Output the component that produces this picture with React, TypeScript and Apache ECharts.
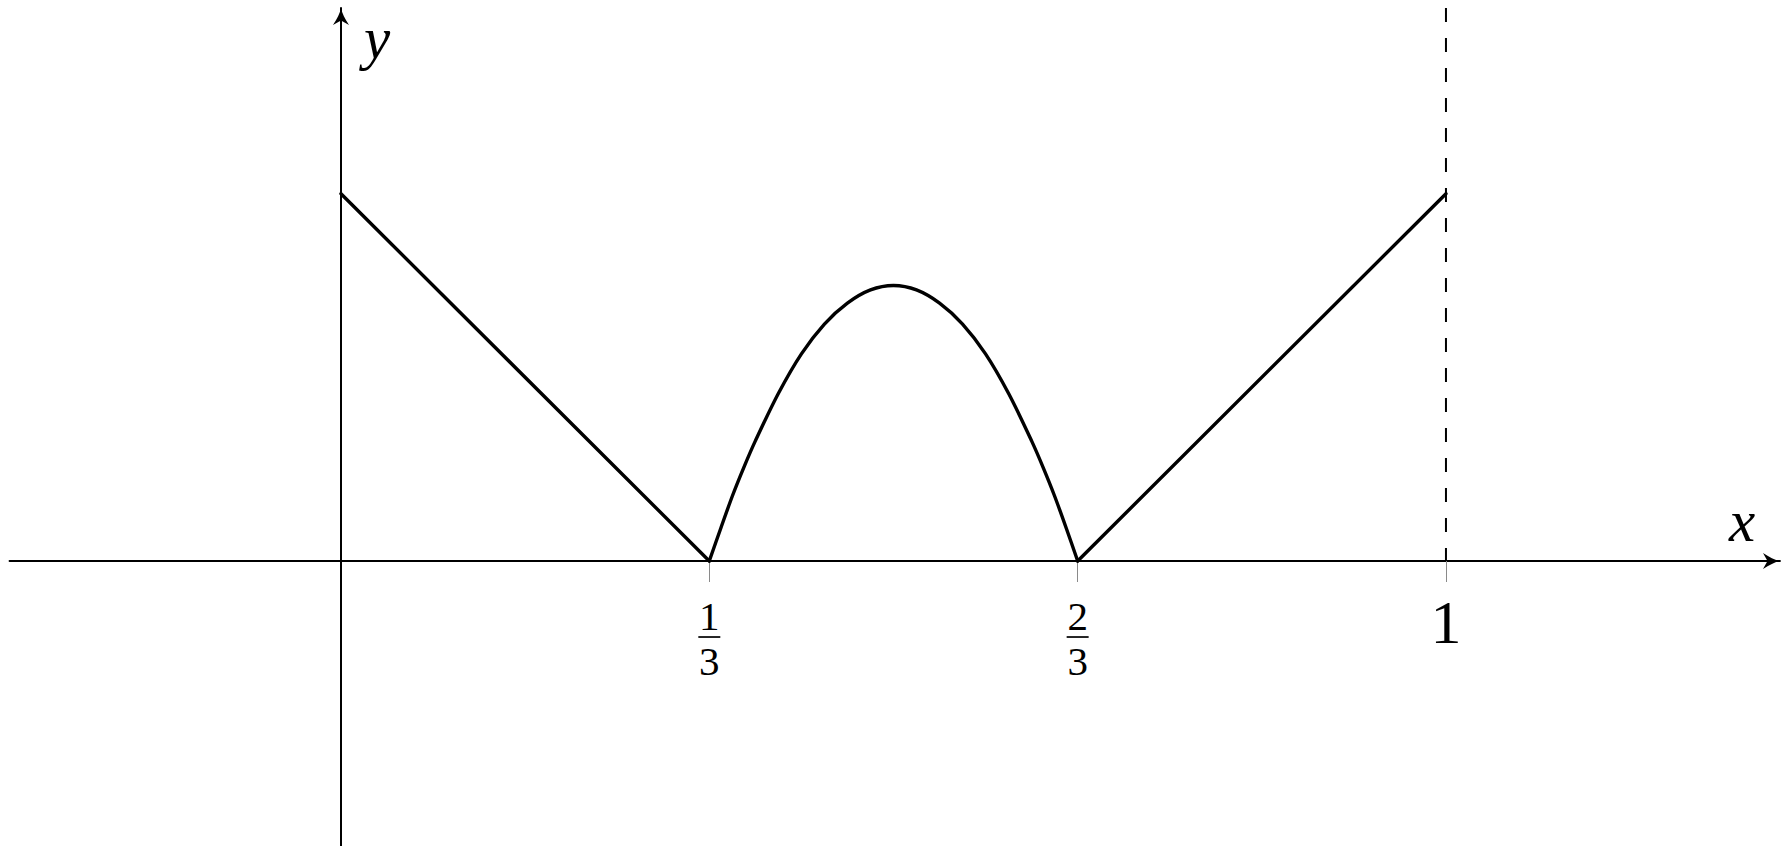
import { useEffect, useRef } from 'react'
import * as echarts from 'echarts'

const W = 1785
const H = 846

const SERIF = "'Liberation Serif', 'DejaVu Serif', serif"

// visible window of the two axes (data units)
const X_MIN = -0.3
const X_MAX = 1.3023
const Y_MIN = -0.2586
const Y_MAX = 0.5018

// grid box in pixels
const GRID_LEFT = 9.5
const GRID_TOP = 8
const GRID_W = 1770.5
const GRID_H = 838
// the x axis sits at y = 0, i.e. this far above the grid's bottom edge
const X_AXIS_LIFT = (-Y_MIN / (Y_MAX - Y_MIN)) * GRID_H

// ticks on the x axis
const xTicks = [1 / 3, 2 / 3, 1]
const xTickLabels = ['1/3', '2/3', '1']

// left falling segment
const leftX = [0, 0.3333]
const leftY = [0.3333, 0]

// middle arch
const arcX = [
  0.3333, 0.3438, 0.3542, 0.3646, 0.375, 0.3958, 0.4167, 0.4375, 0.4583, 0.4792, 0.5,
  0.5208, 0.5417, 0.5625, 0.5833, 0.6042, 0.625, 0.6354, 0.6458, 0.6563, 0.6667,
]
const arcY = [
  0, 0.03, 0.059, 0.085, 0.109, 0.152, 0.188, 0.215, 0.234, 0.246, 0.25,
  0.246, 0.234, 0.215, 0.188, 0.152, 0.109, 0.085, 0.059, 0.03, 0,
]

// right rising segment
const rightX = [0.6667, 1]
const rightY = [0, 0.3333]

// dashed vertical line at x = 1
const dashX = [1, 1]
const dashY = [Y_MAX, 0]

// latex-style arrow head, pointing up
const ARROW = 'path://M8,0 C9,5 12,11 16,17 L8,12.5 L0,17 C4,11 7,5 8,0 Z'

const pts = (xs: number[], ys: number[]) => xs.map((x, i) => [x, ys[i]])

function tickLabel(v: number): string {
  const i = xTicks.findIndex((t) => Math.abs(t - v) < 1e-6)
  if (i < 0) return ''
  const [n, d] = xTickLabels[i].split('/')
  return d ? `{num|${n}}\n{bar|}\n{den|${d}}` : `{big|${n}}`
}

const curve = { color: '#000', width: 3.4, cap: 'round' as const, join: 'round' as const }

function buildOption(): echarts.EChartsOption {
  return {
    animation: false,
    backgroundColor: '#fff',
    grid: {
      left: GRID_LEFT,
      top: GRID_TOP,
      width: GRID_W,
      height: GRID_H,
      outerBoundsMode: 'none',
      containLabel: false,
    } as any,
    xAxis: {
      type: 'value',
      min: X_MIN,
      max: X_MAX,
      offset: -X_AXIS_LIFT,
      name: 'x',
      nameLocation: 'end',
      nameGap: -38,
      nameMoveOverlap: false,
      nameTextStyle: {
        fontFamily: SERIF,
        fontStyle: 'italic',
        fontSize: 59,
        color: '#000',
        align: 'center',
        verticalAlign: 'bottom',
        lineHeight: 80,
      },
      axisLine: {
        onZero: false,
        symbol: ['none', ARROW],
        symbolSize: [17, 17],
        symbolOffset: [0, -8.5],
        lineStyle: { color: '#000', width: 1.8 },
      },
      axisTick: {
        show: true,
        customValues: xTicks,
        length: 21,
        lineStyle: { color: '#8a8a8a', width: 1 },
      },
      axisLabel: {
        customValues: xTicks,
        margin: 38,
        verticalAlign: 'top',
        color: '#000',
        fontFamily: SERIF,
        formatter: tickLabel,
        rich: {
          num: { fontSize: 41, lineHeight: 34, fontFamily: SERIF, color: '#000' },
          bar: { width: 22, height: 1.7, lineHeight: 8, backgroundColor: '#000' },
          den: { fontSize: 41, lineHeight: 40, fontFamily: SERIF, color: '#000' },
          big: { fontSize: 62, lineHeight: 46, fontFamily: SERIF, color: '#000' },
        },
      },
      splitLine: { show: false },
    } as any,
    yAxis: {
      type: 'value',
      min: Y_MIN,
      max: Y_MAX,
      name: 'y',
      nameLocation: 'end',
      nameGap: -30,
      nameMoveOverlap: false,
      nameTextStyle: {
        fontFamily: SERIF,
        fontStyle: 'italic',
        fontSize: 59,
        color: '#000',
        align: 'center',
        verticalAlign: 'middle',
        padding: [0, 0, 0, 72],
      },
      axisLine: {
        onZero: true,
        symbol: ['none', ARROW],
        symbolSize: [17, 17],
        symbolOffset: [0, -8.5],
        lineStyle: { color: '#000', width: 2 },
      },
      axisTick: { show: false },
      axisLabel: { show: false },
      splitLine: { show: false },
    } as any,
    series: [
      {
        type: 'line',
        data: pts(dashX, dashY),
        showSymbol: false,
        clip: false,
        silent: true,
        z: 1,
        lineStyle: { color: '#000', width: 2, type: [14, 16] },
      },
      {
        type: 'line',
        data: pts(leftX, leftY),
        showSymbol: false,
        silent: true,
        z: 3,
        lineStyle: curve,
      },
      {
        type: 'line',
        data: pts(arcX, arcY),
        smooth: 0.3,
        showSymbol: false,
        silent: true,
        z: 3,
        lineStyle: curve,
      },
      {
        type: 'line',
        data: pts(rightX, rightY),
        showSymbol: false,
        silent: true,
        z: 3,
        lineStyle: curve,
      },
    ],
  }
}

export default function App() {
  const ref = useRef<HTMLDivElement>(null)

  useEffect(() => {
    const el = ref.current
    if (!el) return
    const chart = echarts.init(el, undefined, { renderer: 'svg' })
    chart.setOption(buildOption())
    return () => chart.dispose()
  }, [])

  return (
    <div
      ref={ref}
      style={{ position: 'fixed', left: 0, top: 0, width: W, height: H, background: '#fff' }}
    />
  )
}
